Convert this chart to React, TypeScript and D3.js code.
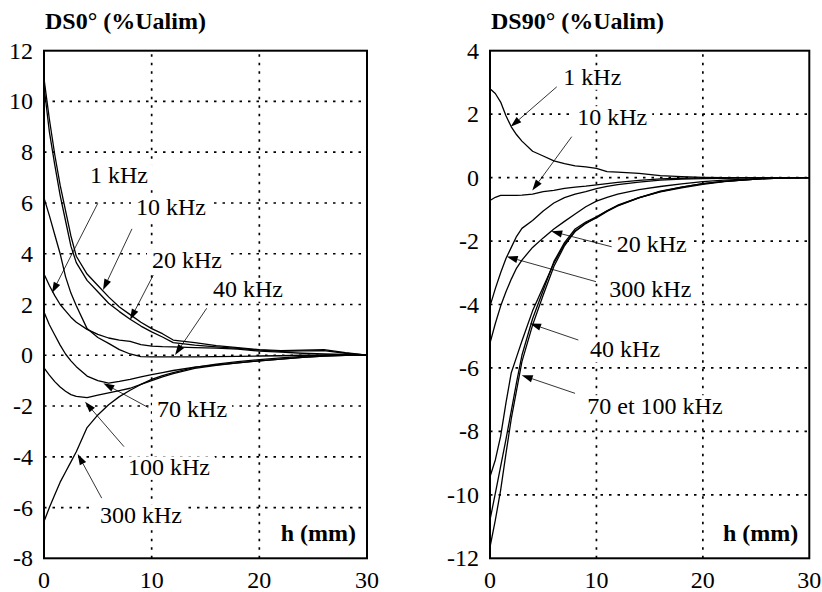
import React from "react";
import * as d3 from "d3";

// Abscissa h (mm)
const H = [0, 0.5, 1, 1.5, 2, 2.5, 3, 4, 5, 6, 7, 8, 9, 10, 11, 12, 14, 16, 18, 20, 22, 24, 26, 28, 30];

// DS0° (%Ualim)
const DS0_1k = [3.2, 2.75, 2.35, 2.0, 1.75, 1.5, 1.3, 1.02, 0.82, 0.68, 0.6, 0.55, 0.42, 0.36, 0.34, 0.33, 0.3, 0.28, 0.24, 0.16, 0.12, 0.08, 0.05, 0.03, 0];
const DS0_10k = [10.9, 9.3, 7.9, 6.7, 5.7, 4.7, 3.9, 3.2, 2.75, 2.3, 1.9, 1.6, 1.3, 1.05, 0.85, 0.6, 0.5, 0.38, 0.3, 0.22, 0.18, 0.2, 0.22, 0.1, 0];
const DS0_20k = [10.6, 8.8, 7.5, 6.3, 5.3, 4.3, 3.65, 2.95, 2.5, 2.05, 1.72, 1.42, 1.15, 0.92, 0.72, 0.5, 0.4, 0.33, 0.27, 0.2, 0.15, 0.17, 0.18, 0.08, 0];
const DS0_40k = [6.2, 5.5, 4.75, 4.0, 3.1, 2.45, 1.95, 1.05, 0.7, 0.47, 0.22, 0.05, -0.05, -0.06, -0.06, -0.06, -0.06, -0.05, -0.04, -0.03, -0.02, 0, 0, 0, 0];
const DS0_70k = [1.7, 1.2, 0.8, 0.4, 0.05, -0.22, -0.45, -0.82, -1.0, -1.1, -1.03, -0.95, -0.85, -0.76, -0.68, -0.6, -0.47, -0.38, -0.3, -0.22, -0.15, -0.08, -0.03, 0, 0];
const DS0_100k = [-0.5, -0.78, -1.04, -1.25, -1.42, -1.55, -1.62, -1.67, -1.57, -1.48, -1.39, -1.3, -1.15, -1.0, -0.85, -0.72, -0.52, -0.4, -0.3, -0.22, -0.15, -0.08, -0.03, 0, 0];
const DS0_300k = [-6.55, -6.0, -5.5, -5.0, -4.6, -4.2, -3.8, -2.85, -2.35, -1.95, -1.63, -1.38, -1.15, -0.95, -0.8, -0.68, -0.48, -0.35, -0.25, -0.17, -0.1, -0.04, 0, 0, 0];

// DS90° (%Ualim)
const DS90_1k = [2.8, 2.65, 2.38, 1.95, 1.6, 1.35, 1.15, 0.83, 0.68, 0.53, 0.44, 0.37, 0.34, 0.29, 0.19, 0.17, 0.13, 0.06, 0.03, 0.01, 0, 0, 0, 0, 0];
const DS90_10k = [-0.72, -0.62, -0.56, -0.56, -0.56, -0.56, -0.55, -0.52, -0.44, -0.4, -0.34, -0.3, -0.27, -0.23, -0.19, -0.15, -0.09, -0.04, -0.02, -0.01, 0, 0, 0, 0, 0];
const DS90_20k = [-5.22, -4.6, -4.05, -3.6, -3.2, -2.85, -2.6, -2.2, -1.9, -1.62, -1.38, -1.15, -0.92, -0.74, -0.62, -0.52, -0.38, -0.28, -0.2, -0.13, -0.08, -0.05, -0.02, -0.01, 0];
const DS90_40k = [-9.43, -8.9, -8.15, -7.1, -6.15, -5.65, -5.15, -4.2, -3.45, -2.7, -2.1, -1.7, -1.45, -1.25, -1.05, -0.88, -0.63, -0.45, -0.32, -0.21, -0.13, -0.07, -0.03, -0.01, 0];
const DS90_70k = [-10.79, -9.95, -9.1, -8.25, -7.35, -6.45, -5.6, -4.45, -3.55, -2.65, -2.05, -1.62, -1.4, -1.24, -1.05, -0.87, -0.63, -0.43, -0.3, -0.19, -0.12, -0.07, -0.03, -0.01, 0];
const DS90_100k = [-11.65, -10.8, -9.85, -8.7, -7.6, -6.7, -5.8, -4.65, -3.7, -2.8, -2.15, -1.68, -1.43, -1.27, -1.07, -0.89, -0.64, -0.44, -0.3, -0.19, -0.12, -0.07, -0.03, -0.01, 0];
const DS90_300k = [-4.05, -3.5, -3.0, -2.55, -2.2, -1.85, -1.6, -1.35, -1.05, -0.8, -0.63, -0.52, -0.44, -0.35, -0.28, -0.22, -0.14, -0.08, -0.05, -0.03, -0.02, -0.01, 0, 0, 0];

// Ticks
const X_TICKS = [0, 10, 20, 30];
const LEFT_Y_TICKS = [-8, -6, -4, -2, 0, 2, 4, 6, 8, 10, 12];
const RIGHT_Y_TICKS = [-12, -10, -8, -6, -4, -2, 0, 2, 4];

// Annotations: label, text anchor (h, v), arrow start (h, v), arrow tip (h, v)
type Note = [string, number, number, number, number, number, number];
const LEFT_NOTES: Note[] = [
  ["1 kHz", 4.27, 6.79, 4.99, 5.98, 0.74, 2.45],
  ["10 kHz", 8.54, 5.53, 8.17, 4.98, 5.48, 2.57],
  ["20 kHz", 10.03, 3.44, 10.15, 3.16, 7.99, 1.39],
  ["40 kHz", 15.7, 2.3, 15.11, 1.85, 12.17, 0.01],
  ["70 kHz", 10.5, -2.42, 9.69, -2.06, 5.51, -1.1],
  ["100 kHz", 7.8, -4.72, 7.43, -3.6, 3.81, -1.83],
  ["300 kHz", 5.2, -6.62, 5.36, -5.63, 3.13, -3.89],
];
const RIGHT_NOTES: Note[] = [
  ["1 kHz", 6.89, 2.92, 6.27, 2.86, 1.94, 1.6],
  ["10 kHz", 8.2, 1.66, 7.68, 1.29, 3.97, -0.41],
  ["20 kHz", 11.9, -2.34, 11.43, -2.18, 5.75, -1.69],
  ["300 kHz", 11.21, -3.75, 9.96, -3.28, 1.57, -2.49],
  ["40 kHz", 9.4, -5.67, 8.3, -5.12, 3.76, -4.6],
  ["70 et 100 kHz", 9.14, -7.45, 7.99, -6.8, 2.98, -6.23],
];

const FS = 24;
const FONT = '"Liberation Serif", "Times New Roman", Times, serif';
const textStyle: React.CSSProperties = { fontFamily: FONT, fontSize: FS };

// approximate Times advance widths (em) for background boxes
const ADV: Record<string, number> = { " ": 0.25, "0": 0.5, "1": 0.5, "2": 0.5, "3": 0.5, "4": 0.5, "7": 0.5, k: 0.5, H: 0.722, z: 0.444, e: 0.444, t: 0.278, h: 0.556, m: 0.833, "(": 0.333, ")": 0.333 };
function measure(s: string, bold = false): number {
  let w = 0;
  for (const c of s) w += ADV[c] ?? 0.5;
  return w * FS * (bold ? 1.04 : 1);
}

type PanelProps = {
  title: string;
  left: number;
  right: number;
  top: number;
  bottom: number;
  yDomain: [number, number];
  yTicks: number[];
  series: number[][];
  notes: Note[];
};

function Panel(p: PanelProps) {
  const x = d3.scaleLinear().domain([0, 30]).range([p.left, p.right]);
  const y = d3.scaleLinear().domain(p.yDomain).range([p.bottom, p.top]);
  const line = d3
    .line<number>()
    .x((_, i) => x(H[i]))
    .y((d) => y(d));

  const notes = p.notes.map(([label, tx, ty, sx, sy, ex, ey]) => {
    const x1 = x(sx), y1 = y(sy), x2 = x(ex), y2 = y(ey);
    const dx = x2 - x1, dy = y2 - y1;
    const len = Math.hypot(dx, dy);
    const ux = dx / len, uy = dy / len;
    const L = 11, W = 3.6;
    const bx = x2 - ux * L, by = y2 - uy * L;
    return {
      label,
      tx: x(tx),
      ty: y(ty),
      w: measure(label),
      x1, y1, bx, by,
      tri: `${x2},${y2} ${bx - uy * W},${by + ux * W} ${bx + uy * W},${by - ux * W}`,
    };
  });

  const hx = x(30) - 11;
  const hy = y(p.yDomain[0]) - 17;
  const hw = measure("h (mm)", true);

  return (
    <g>
      <g stroke="#000" strokeWidth={1.7} strokeDasharray="2.5,6">
        {p.yTicks.slice(1, -1).map((v) => (
          <line key={`gy${v}`} x1={x(0)} x2={x(30)} y1={y(v)} y2={y(v)} />
        ))}
        {X_TICKS.slice(1, -1).map((v) => (
          <line key={`gx${v}`} x1={x(v)} x2={x(v)} y1={y(p.yDomain[0])} y2={y(p.yDomain[1])} />
        ))}
      </g>
      <g fill="#fff">
        {notes.map((n) => (
          <rect key={`bg${n.label}`} x={n.tx - 5} y={n.ty - FS * 0.78} width={n.w + 10} height={FS * 0.98} />
        ))}
        <rect x={hx - hw - 4} y={hy - FS * 0.85} width={hw + 8} height={FS * 1.1} />
      </g>
      <g fill="none" stroke="#000" strokeWidth={1.3} strokeLinejoin="round">
        {p.series.map((s, i) => (
          <path key={`s${i}`} d={line(s) || ""} />
        ))}
      </g>
      {notes.map((n) => (
        <g key={`n${n.label}`}>
          <line x1={n.x1} y1={n.y1} x2={n.bx} y2={n.by} stroke="#000" strokeWidth={0.8} />
          <polygon points={n.tri} fill="#000" />
          <text x={n.tx} y={n.ty} className="serif" style={textStyle}>
            {n.label}
          </text>
        </g>
      ))}
      <text x={hx} y={hy} textAnchor="end" className="serif" style={{ ...textStyle, fontWeight: "bold" }}>
        h (mm)
      </text>
      <rect
        x={x(0)}
        y={y(p.yDomain[1])}
        width={x(30) - x(0)}
        height={y(p.yDomain[0]) - y(p.yDomain[1])}
        fill="none"
        stroke="#000"
        strokeWidth={2}
      />
      {p.yTicks.map((v) => (
        <text key={`ty${v}`} x={x(0) - 11} y={y(v) + 8} textAnchor="end" className="serif" style={textStyle}>
          {String(v)}
        </text>
      ))}
      {X_TICKS.map((v) => (
        <text key={`tx${v}`} x={x(v)} y={y(p.yDomain[0]) + 30} textAnchor="middle" className="serif" style={textStyle}>
          {String(v)}
        </text>
      ))}
      <text x={x(0) + 1} y={29} className="serif" style={{ ...textStyle, fontWeight: "bold" }}>
        {p.title}
      </text>
    </g>
  );
}

export default function App() {
  return (
    <div style={{ fontFamily: FONT }}>
      <style>{`svg text.serif { font-family: "Liberation Serif", "Times New Roman", Times, serif !important; }`}</style>
      <svg width={822} height={592} style={{ position: "absolute", left: 0, top: 0, background: "#fff" }}>
        <Panel
          title="DS0° (%Ualim)"
          left={44}
          right={367}
          top={50.7}
          bottom={558.3}
          yDomain={[-8, 12]}
          yTicks={LEFT_Y_TICKS}
          series={[DS0_1k, DS0_10k, DS0_20k, DS0_40k, DS0_70k, DS0_100k, DS0_300k]}
          notes={LEFT_NOTES}
        />
        <Panel
          title="DS90° (%Ualim)"
          left={490}
          right={809.3}
          top={50.7}
          bottom={558.3}
          yDomain={[-12, 4]}
          yTicks={RIGHT_Y_TICKS}
          series={[DS90_1k, DS90_10k, DS90_20k, DS90_40k, DS90_70k, DS90_100k, DS90_300k]}
          notes={RIGHT_NOTES}
        />
      </svg>
    </div>
  );
}
